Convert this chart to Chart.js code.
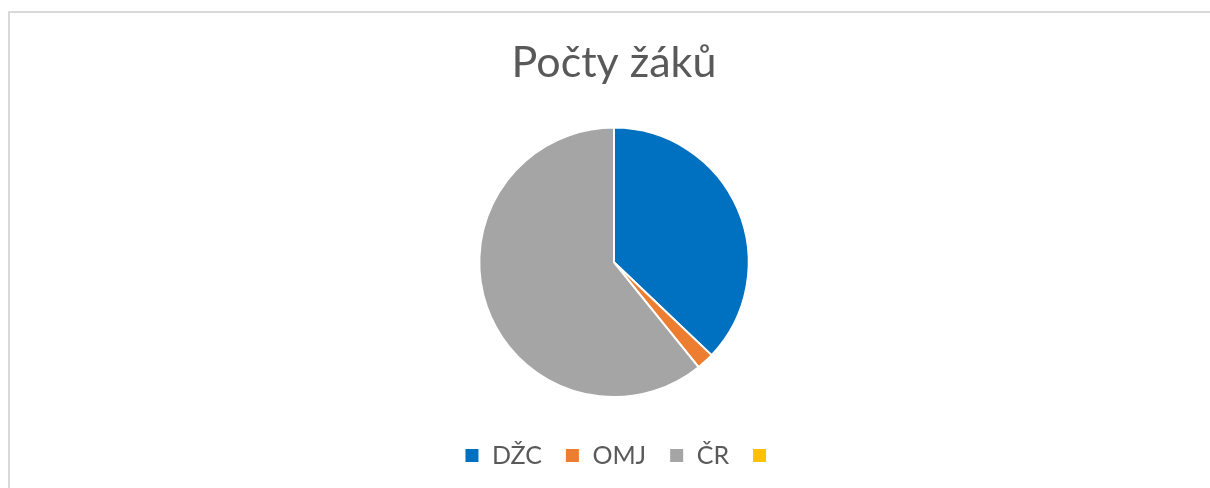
<!DOCTYPE html>
<html>
<head>
<meta charset="utf-8">
<script src="https://cdn.jsdelivr.net/npm/chart.js@4"></script>
<style>
  html, body { margin: 0; padding: 0; background: #fff; overflow: hidden; }
  #frame {
    position: absolute; left: 8px; top: 11px; width: 1210px; height: 500px;
    border-left: 2px solid #d9d9d9; border-top: 2px solid #d9d9d9;
  }
  #wrap { position: absolute; left: 9px; top: 0; width: 1210px; height: 488px; }
</style>
</head>
<body>
<div id="frame"></div>
<div id="wrap"><canvas id="myChart"></canvas></div>
<script>
// data
var labels = ["DŽC", "OMJ", "ČR", ""];
var values = [37.1, 2.1, 60.8, 0];
var colors = ["#0070C0", "#ED7D31", "#A5A5A5", "#FFC000"];
var chartTitle = "Počty žáků";

// the legend sits a few px right of the pie centre in the original
var legendNudge = {
  id: "legendNudge",
  afterLayout: function (chart) {
    chart.legend.left += 8;
    chart.legend.right += 8;
  },
};

var ctx = document.getElementById("myChart").getContext("2d");
var chartInstance = new Chart(ctx, {
  type: "pie",
  data: {
    labels: labels,
    datasets: [
      {
        data: values,
        backgroundColor: colors,
        borderColor: "#ffffff",
        borderWidth: 2,
      },
    ],
  },
  options: {
    responsive: true,
    maintainAspectRatio: false,
    animation: false,
    layout: { padding: { top: 0, bottom: 10, left: 0, right: 0 } },
    plugins: {
      tooltip: { enabled: false },
      title: {
        display: true,
        text: chartTitle,
        color: "#595959",
        font: { family: "Lato", size: 43, weight: "normal" },
        padding: { top: 37, bottom: 38 },
      },
      legend: {
        position: "bottom",
        // empty title only to leave a gap above the legend items
        title: { display: true, text: " ", font: { size: 10 }, padding: 5 },
        labels: {
          color: "#595959",
          font: { family: "Lato", size: 25 },
          boxWidth: 15,
          boxHeight: 15,
          padding: 23,
        },
      },
    },
  },
  plugins: [legendNudge],
});
</script>
</body>
</html>
